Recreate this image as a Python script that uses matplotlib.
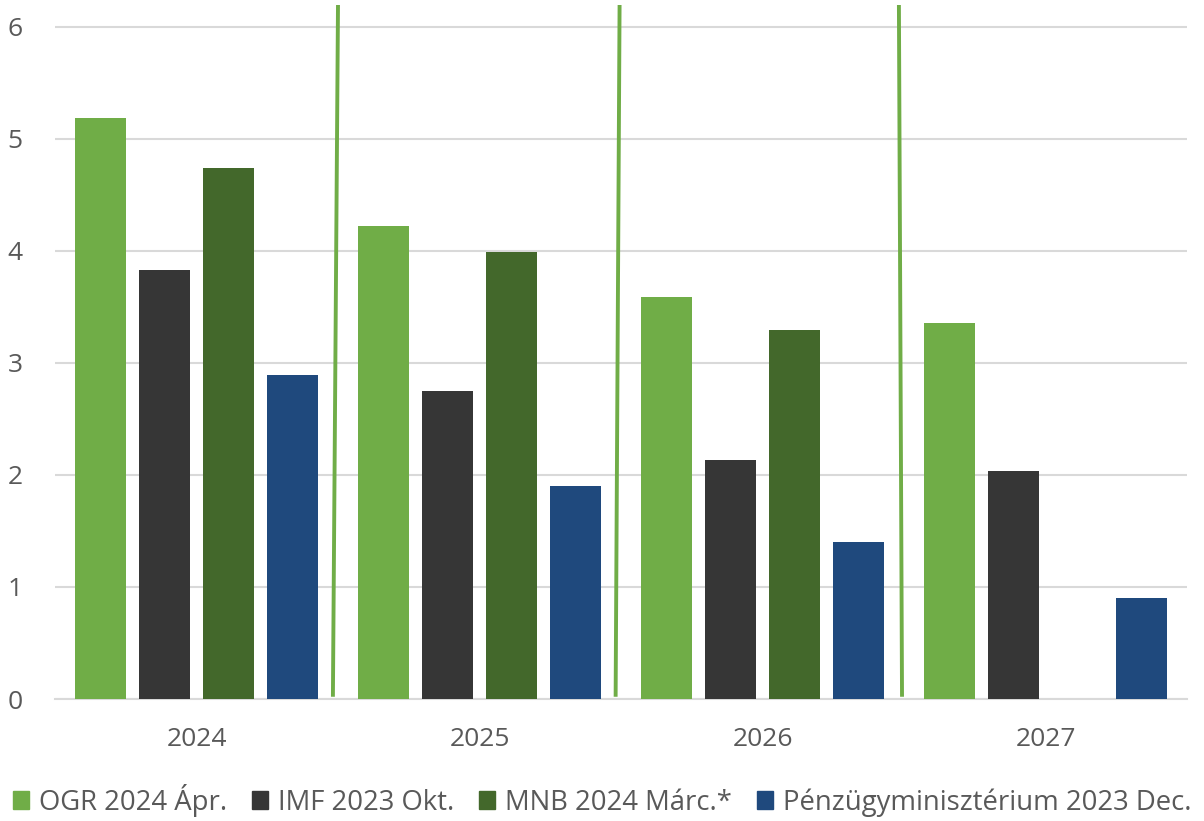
import matplotlib.pyplot as plt
import numpy as np

plt.rcParams['font.family'] = ['Open Sans', 'DejaVu Sans']
plt.rcParams['font.size'] = 19

years = ['2024', '2025', '2026', '2027']
series = ['OGR 2024 Ápr.', 'IMF 2023 Okt.', 'MNB 2024 Márc.*',
          'Pénzügyminisztérium 2023 Dec.']
ogr = [5.19, 4.22, 3.59, 3.36]
imf = [3.83, 2.75, 2.13, 2.04]
mnb = [4.74, 3.99, 3.29, np.nan]
pm = [2.89, 1.90, 1.40, 0.90]
colors = ['#70AD47', '#363636', '#43682B', '#1F497D']

# separator lines between year groups (top x, bottom x in category units)
sep_top = [0.500, 1.495, 2.482]
sep_bot = [0.482, 1.481, 2.493]

fig = plt.figure(figsize=(12.04, 8.21), dpi=100)
ax = fig.add_axes([55/1204, 122/821, 1132/1204, 694/821])

x = np.arange(len(years))
width = 0.18
step = 0.226
for i, vals in enumerate([ogr, imf, mnb, pm]):
    ax.bar(x + (i - 1.5)*step, vals, width, color=colors[i], label=series[i],
           zorder=3)

for xt, xb in zip(sep_top, sep_bot):
    ax.plot([xt, xb], [6.2, 0.02], color='#70AD47', lw=2.8, zorder=4,
            solid_capstyle='butt')

ax.set_xlim(-0.5, 3.5)
ax.set_ylim(0, 6.196)
ax.set_yticks(range(7))
ax.set_xticks(x)
ax.set_xticklabels(years)
ax.grid(axis='y', color='#D9D9D9', lw=1.5, zorder=0)
for s in ['top', 'right', 'left']:
    ax.spines[s].set_visible(False)
ax.spines['bottom'].set_color('#D9D9D9')
ax.spines['bottom'].set_linewidth(1.5)
ax.tick_params(axis='both', length=0, colors='#595959', labelsize=19)
ax.tick_params(axis='x', pad=20)
ax.tick_params(axis='y', pad=34)
for t in ax.get_yticklabels():
    t.set_horizontalalignment('left')

handles = [plt.Rectangle((0, 0), 1, 1, color=c) for c in colors]
fig.legend(handles, series, loc='center', bbox_to_anchor=(0.5, 21/821),
           ncol=4, frameon=False, handlelength=0.6, handleheight=0.6,
           handletextpad=0.35, columnspacing=0.9, fontsize=19.8,
           labelcolor='#595959')

fig.savefig('out.png', dpi=100)
